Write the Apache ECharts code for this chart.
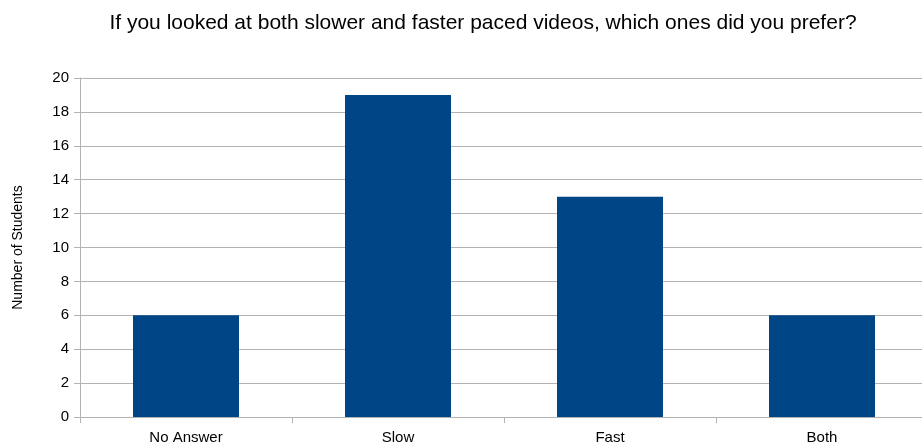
<!DOCTYPE html>
<html>
<head>
<meta charset="utf-8">
<script src="https://cdn.jsdelivr.net/npm/echarts@6/dist/echarts.min.js"></script>
<style>
  html, body { margin: 0; padding: 0; background: #ffffff; overflow: hidden; }
  /* plot area runs slightly past the right edge of the window */
  #chart { width: 928px; height: 448px; }
</style>
</head>
<body>
<div id="chart"></div>
<script>
// Survey responses: preferred video pace
const categories = ['No Answer', 'Slow', 'Fast', 'Both'];
const students = [6, 19, 13, 6];
const yTicks = { min: 0, max: 20, interval: 2 };

const chart = echarts.init(document.getElementById('chart'), null, { renderer: 'canvas' });
const font = 'Liberation Sans, Arial, sans-serif';

chart.setOption({
  animation: false,
  backgroundColor: '#ffffff',
  title: {
    text: 'If you looked at both slower and faster paced videos, which ones did you prefer?',
    left: 478,
    textAlign: 'center',
    top: 8,
    textStyle: { fontFamily: font, fontSize: 21, fontWeight: 'normal', color: '#000000' }
  },
  grid: { left: 80, right: 0, top: 78, bottom: 31, containLabel: false },
  xAxis: {
    type: 'category',
    data: categories,
    axisLine: { show: true, lineStyle: { color: '#b3b3b3', width: 1 } },
    axisTick: { show: true, length: 6, alignWithLabel: false, lineStyle: { color: '#b3b3b3' } },
    axisLabel: { fontFamily: font, fontSize: 15, color: '#000000', margin: 13 },
    splitLine: { show: false }
  },
  yAxis: {
    type: 'value',
    min: yTicks.min,
    max: yTicks.max,
    interval: yTicks.interval,
    name: 'Number of Students',
    nameLocation: 'middle',
    nameGap: 55,
    nameRotate: 90,
    nameTextStyle: { fontFamily: font, fontSize: 14, color: '#000000' },
    axisLine: { show: true, lineStyle: { color: '#b3b3b3', width: 1 } },
    axisTick: { show: true, length: 6, lineStyle: { color: '#b3b3b3' } },
    axisLabel: { fontFamily: font, fontSize: 15, color: '#000000', margin: 11 },
    splitLine: { show: true, lineStyle: { color: '#b3b3b3', width: 1 } }
  },
  series: [{
    type: 'bar',
    data: students,
    barWidth: '50%',
    itemStyle: { color: '#004586' }
  }]
});
</script>
</body>
</html>
